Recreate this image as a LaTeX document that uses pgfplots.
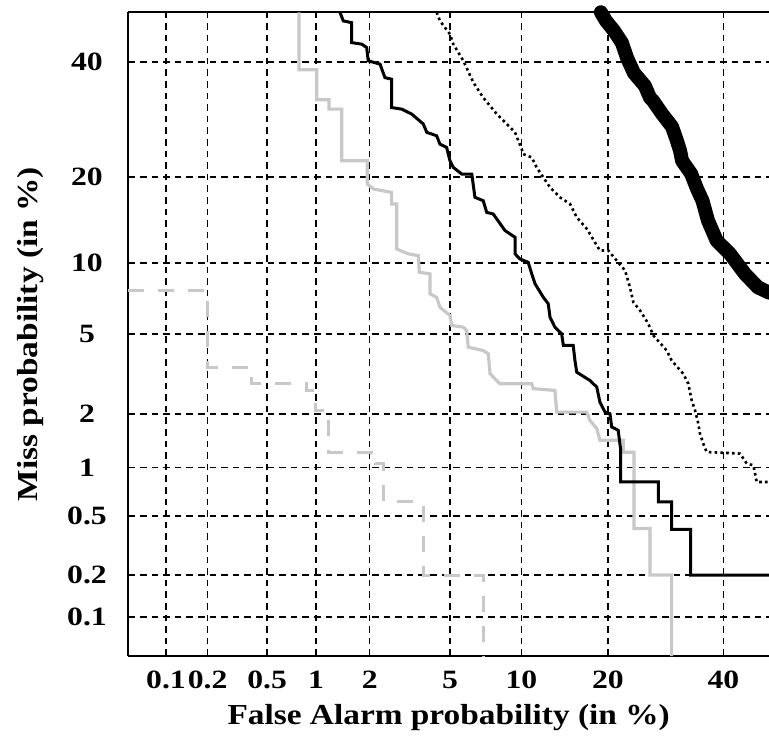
\documentclass[border=0pt]{standalone}
\usepackage{fontspec}
\setmainfont{Liberation Serif}
\newfontfamily\labfont{Liberation Serif}[FakeStretch=1.15]
\newfontfamily\tickfam{Liberation Serif}[FakeStretch=1.2]
\usepackage{pgfplots}
\pgfplotsset{compat=1.18}

% DET curve: both axes are normal deviates (probit of the probability),
% all coordinates below are given on that scale.
\definecolor{lightcurve}{RGB}{200,200,200}
\newcommand\labelfont{\labfont\bfseries\fontsize{14.5}{16}\selectfont}
\newcommand\tickfont{\tickfam\bfseries\fontsize{13.2}{15}\selectfont}

\begin{document}
\begin{tikzpicture}
\begin{axis}[
    scale only axis,
    width=320.35pt, height=321.85pt,
    xmin=-3.282, xmax=-0.0215,
    ymin=-3.2908, ymax=0,
    axis x line*=box, axis y line*=left,
    axis line style={line width=1pt},
    xtick={-3.0902,-2.8782,-2.5758,-2.3263,-2.0537,-1.6449,-1.2816,-0.8416,-0.2533},
    xticklabels={0.1,0.2,0.5,1,2,5,10,20,40},
    ytick={-3.0902,-2.8782,-2.5758,-2.3263,-2.0537,-1.6449,-1.2816,-0.8416,-0.2533},
    yticklabels={0.1,0.2,0.5,1,2,5,10,20,40},
    /pgf/number format/assume math mode=true,
    grid=major,
    major grid style={black, line width=0.8pt, dash pattern=on 3.3pt off 2.5pt},
    tick style={black, line width=0.8pt},
    major tick length=3pt,
    tick align=inside,
    xticklabel style={font=\tickfont, yshift=-4pt},
    yticklabel style={font=\tickfont, anchor=center, xshift=-20.65pt},
    xlabel={False Alarm probability (in \%)},
    ylabel={Miss probability (in \%)},
    every axis x label/.style={at={(rel axis cs:0.5,0)}, yshift=-31pt, anchor=center, font=\labelfont},
    every axis y label/.style={at={(rel axis cs:0,0.5)}, xshift=-48.65pt, rotate=90, anchor=center, font=\labelfont},
    clip=false,
]
% light grey dashed
\addplot[lightcurve, line width=1.5pt, dash pattern=on 8pt off 7pt] coordinates {
    (-3.282,-1.422) (-2.880,-1.422) (-2.880,-1.814) (-2.653,-1.814) (-2.653,-1.899)
    (-2.373,-1.899) (-2.373,-1.933) (-2.327,-1.933) (-2.327,-2.035) (-2.261,-2.035)
    (-2.261,-2.248) (-2.022,-2.248) (-2.022,-2.306) (-1.981,-2.306) (-1.981,-2.503)
    (-1.781,-2.503) (-1.781,-2.877) (-1.476,-2.877) (-1.476,-3.2908)
};
% light grey solid
\addplot[lightcurve, line width=1.6pt] coordinates {
    (-2.413,0) (-2.413,-0.294) (-2.323,-0.294) (-2.323,-0.447) (-2.261,-0.447)
    (-2.261,-0.495) (-2.196,-0.495) (-2.196,-0.759) (-2.066,-0.759) (-2.066,-0.878)
    (-2.035,-0.903) (-1.942,-0.921) (-1.942,-0.980) (-1.916,-0.980) (-1.916,-1.210)
    (-1.857,-1.235) (-1.806,-1.244) (-1.801,-1.329) (-1.747,-1.337) (-1.747,-1.439)
    (-1.713,-1.457) (-1.696,-1.508) (-1.645,-1.550) (-1.636,-1.601) (-1.577,-1.610)
    (-1.560,-1.627) (-1.552,-1.712) (-1.476,-1.729) (-1.450,-1.746) (-1.441,-1.848)
    (-1.391,-1.899) (-1.229,-1.899) (-1.221,-1.924) (-1.111,-1.933) (-1.102,-2.044)
    (-0.949,-2.044) (-0.933,-2.086) (-0.898,-2.128) (-0.882,-2.188) (-0.763,-2.188)
    (-0.763,-2.249) (-0.709,-2.249) (-0.709,-2.639) (-0.627,-2.639) (-0.627,-2.877)
    (-0.517,-2.877) (-0.517,-3.2908)
};
% black solid
\addplot[black, line width=1.5pt] coordinates {
    (-2.205,0) (-2.188,-0.044) (-2.145,-0.053) (-2.145,-0.155) (-2.094,-0.163)
    (-2.069,-0.180) (-2.061,-0.248) (-2.001,-0.265) (-1.976,-0.334) (-1.942,-0.342)
    (-1.942,-0.487) (-1.891,-0.495) (-1.840,-0.520) (-1.781,-0.571) (-1.763,-0.614)
    (-1.713,-0.631) (-1.696,-0.674) (-1.662,-0.691) (-1.645,-0.759) (-1.628,-0.793)
    (-1.585,-0.827) (-1.534,-0.827) (-1.518,-0.946) (-1.476,-0.963) (-1.458,-1.023)
    (-1.425,-1.031) (-1.365,-1.116) (-1.314,-1.150) (-1.314,-1.235) (-1.289,-1.261)
    (-1.247,-1.278) (-1.229,-1.337) (-1.212,-1.388) (-1.170,-1.457) (-1.145,-1.490)
    (-1.136,-1.559) (-1.111,-1.610) (-1.077,-1.643) (-1.068,-1.703) (-1.018,-1.703)
    (-1.009,-1.780) (-1.000,-1.840) (-0.933,-1.882) (-0.898,-1.916) (-0.882,-1.993)
    (-0.856,-2.044) (-0.831,-2.052) (-0.822,-2.120) (-0.789,-2.137) (-0.776,-2.239)
    (-0.776,-2.401) (-0.585,-2.401) (-0.585,-2.503) (-0.517,-2.503) (-0.517,-2.644)
    (-0.420,-2.644) (-0.420,-2.877) (-0.0215,-2.877)
};
% black dotted
\addplot[black, line width=1.3pt, dash pattern=on 1.3pt off 1.6pt] coordinates {
    (-1.713,0) (-1.696,-0.044) (-1.645,-0.112) (-1.628,-0.163) (-1.577,-0.248)
    (-1.526,-0.359) (-1.476,-0.436) (-1.407,-0.520) (-1.356,-0.571) (-1.314,-0.614)
    (-1.297,-0.657) (-1.280,-0.699) (-1.272,-0.725) (-1.229,-0.742) (-1.204,-0.793)
    (-1.170,-0.844) (-1.136,-0.895) (-1.085,-0.946) (-1.034,-0.980) (-1.000,-1.048)
    (-0.941,-1.116) (-0.933,-1.133) (-0.882,-1.218) (-0.839,-1.218) (-0.797,-1.269)
    (-0.754,-1.320) (-0.729,-1.406) (-0.712,-1.482) (-0.678,-1.524) (-0.636,-1.592)
    (-0.610,-1.652) (-0.542,-1.729) (-0.517,-1.780) (-0.458,-1.848) (-0.432,-1.899)
    (-0.415,-1.984) (-0.398,-2.035) (-0.381,-2.103) (-0.373,-2.154) (-0.356,-2.205)
    (-0.339,-2.248) (-0.169,-2.256) (-0.135,-2.307) (-0.101,-2.316) (-0.084,-2.401)
    (-0.0215,-2.401)
};
% black thick
\addplot[black, line width=7pt, line cap=round, line join=round] coordinates {
    (-0.877,0) (-0.851,-0.044) (-0.810,-0.095) (-0.770,-0.156) (-0.744,-0.233)
    (-0.709,-0.310) (-0.653,-0.376) (-0.627,-0.437) (-0.612,-0.452) (-0.566,-0.519)
    (-0.515,-0.585) (-0.490,-0.657) (-0.474,-0.708) (-0.464,-0.759) (-0.418,-0.825)
    (-0.388,-0.902) (-0.360,-0.963) (-0.332,-1.065) (-0.288,-1.167) (-0.220,-1.235)
    (-0.144,-1.337) (-0.078,-1.406) (-0.0215,-1.433)
};
\coordinate (sw) at (rel axis cs:0,0);
\coordinate (ne) at (rel axis cs:1,1);
\end{axis}
\pgfresetboundingbox
\path ([xshift=-64.15pt,yshift=-41pt]sw) rectangle ([yshift=6.15pt]ne);
\end{tikzpicture}
\end{document}
